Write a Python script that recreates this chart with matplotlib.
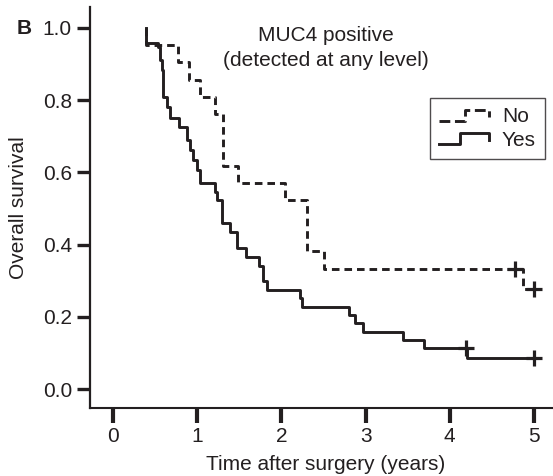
import matplotlib
matplotlib.use("Agg")
import matplotlib.pyplot as plt
from matplotlib.lines import Line2D
from matplotlib.legend_handler import HandlerBase

plt.rcParams['font.family'] = ['Liberation Sans', 'DejaVu Sans']

# Kaplan-Meier steps (time in years, survival after each drop)
no_time = [0.39, 0.39, 0.77, 0.90, 1.03, 1.21, 1.31, 1.48, 2.04, 2.30, 2.51, 4.87, 5.00]
no_surv = [1.0, 0.952, 0.905, 0.857, 0.81, 0.762, 0.619, 0.571, 0.524, 0.381, 0.333, 0.278, 0.278]
no_cens_time = [4.77, 5.00]
no_cens_surv = [0.333, 0.278]

yes_time = [0.39, 0.39, 0.53, 0.56, 0.58, 0.59, 0.64, 0.68, 0.78, 0.88, 0.91, 0.95,
            1.00, 1.03, 1.21, 1.23, 1.30, 1.39, 1.47, 1.58, 1.73, 1.78, 1.83, 2.22,
            2.24, 2.80, 2.87, 2.97, 3.44, 3.69, 4.20, 5.00]
yes_surv = [1.0, 0.958, 0.947, 0.911, 0.884, 0.809, 0.781, 0.751, 0.726, 0.69, 0.662, 0.634,
            0.607, 0.571, 0.546, 0.524, 0.46, 0.435, 0.39, 0.366, 0.341, 0.30, 0.274, 0.252,
            0.227, 0.205, 0.183, 0.158, 0.136, 0.114, 0.086, 0.086]
yes_cens_time = [4.19, 5.00]
yes_cens_surv = [0.114, 0.086]

x_ticks = [0, 1, 2, 3, 4, 5]
y_ticks = [0.0, 0.2, 0.4, 0.6, 0.8, 1.0]

ink = '#231f20'
dash = (0, (2.6, 1.7))


# legend handle drawn as a little survival step
class StepHandler(HandlerBase):
    def __init__(self, frac, **kw):
        super().__init__(**kw)
        self.frac = frac

    def create_artists(self, legend, orig_handle, xdescent, ydescent,
                       width, height, fontsize, trans):
        x0 = -xdescent
        lo = -ydescent + 0.1 * height
        hi = -ydescent + 0.85 * height
        xs = [x0, x0 + self.frac * width, x0 + self.frac * width, x0 + width, x0 + width]
        ys = [lo, lo, hi, hi, lo + 0.35 * (hi - lo)]
        ln = Line2D(xs, ys, color=orig_handle.get_color(),
                    linestyle=orig_handle.get_linestyle(),
                    linewidth=orig_handle.get_linewidth())
        ln.set_transform(trans)
        return [ln]


fig = plt.figure(figsize=(5.53, 4.76), dpi=100)
ax = fig.add_axes([90 / 553, 68 / 476, 463 / 553, 401 / 476])

no_line, = ax.step(no_time, no_surv, where='post', color=ink, lw=2.1, ls=dash)
yes_line, = ax.step(yes_time, yes_surv, where='post', color=ink, lw=2.1)
ax.plot(no_cens_time, no_cens_surv, '+', color=ink, ms=11, mew=2.3)
ax.plot(yes_cens_time, yes_cens_surv, '+', color=ink, ms=11, mew=2.3)

ax.set_xlim(-0.273, 5.226)
ax.set_ylim(-0.0526, 1.058)
ax.set_xticks(x_ticks)
ax.set_yticks(y_ticks)
ax.set_yticklabels([f'{v:.1f}' for v in y_ticks])

for s in ['top', 'right']:
    ax.spines[s].set_visible(False)
ax.spines['left'].set_linewidth(1.6)
ax.spines['bottom'].set_linewidth(1.5)
ax.spines['left'].set_color(ink)
ax.spines['bottom'].set_color(ink)

ax.tick_params(axis='x', direction='out', length=11, width=3.0, pad=3,
               labelsize=15, color=ink, labelcolor=ink)
ax.tick_params(axis='y', direction='out', length=9.5, width=2.4, pad=3.5,
               labelsize=15, color=ink, labelcolor=ink)

ax.set_xlabel('Time after surgery (years)', fontsize=15, color=ink)
ax.xaxis.set_label_coords(0.508, -0.118)
ax.set_ylabel('Overall survival', fontsize=15, color=ink)
ax.yaxis.set_label_coords(-0.134, 0.5)

ax.text(2.53, 0.978, 'MUC4 positive', fontsize=15, color=ink, ha='center', va='center')
ax.text(2.53, 0.909, '(detected at any level)', fontsize=15, color=ink, ha='center', va='center')

fig.text(17 / 553, 1 - 28 / 476, 'B', fontsize=15, fontweight='bold', color=ink,
         ha='left', va='center')

leg = ax.legend([no_line, yes_line], ['No', 'Yes'],
                handler_map={no_line: StepHandler(0.52), yes_line: StepHandler(0.42)},
                loc='upper right', bbox_to_anchor=(0.983, 0.773), borderaxespad=0,
                fontsize=15, fancybox=False, handlelength=2.4, handletextpad=0.6,
                labelspacing=0.2, borderpad=0.45, frameon=True)
leg.get_frame().set_edgecolor(ink)
leg.get_frame().set_linewidth(1.0)
for t in leg.get_texts():
    t.set_color(ink)

fig.savefig('out.png', dpi=100)
